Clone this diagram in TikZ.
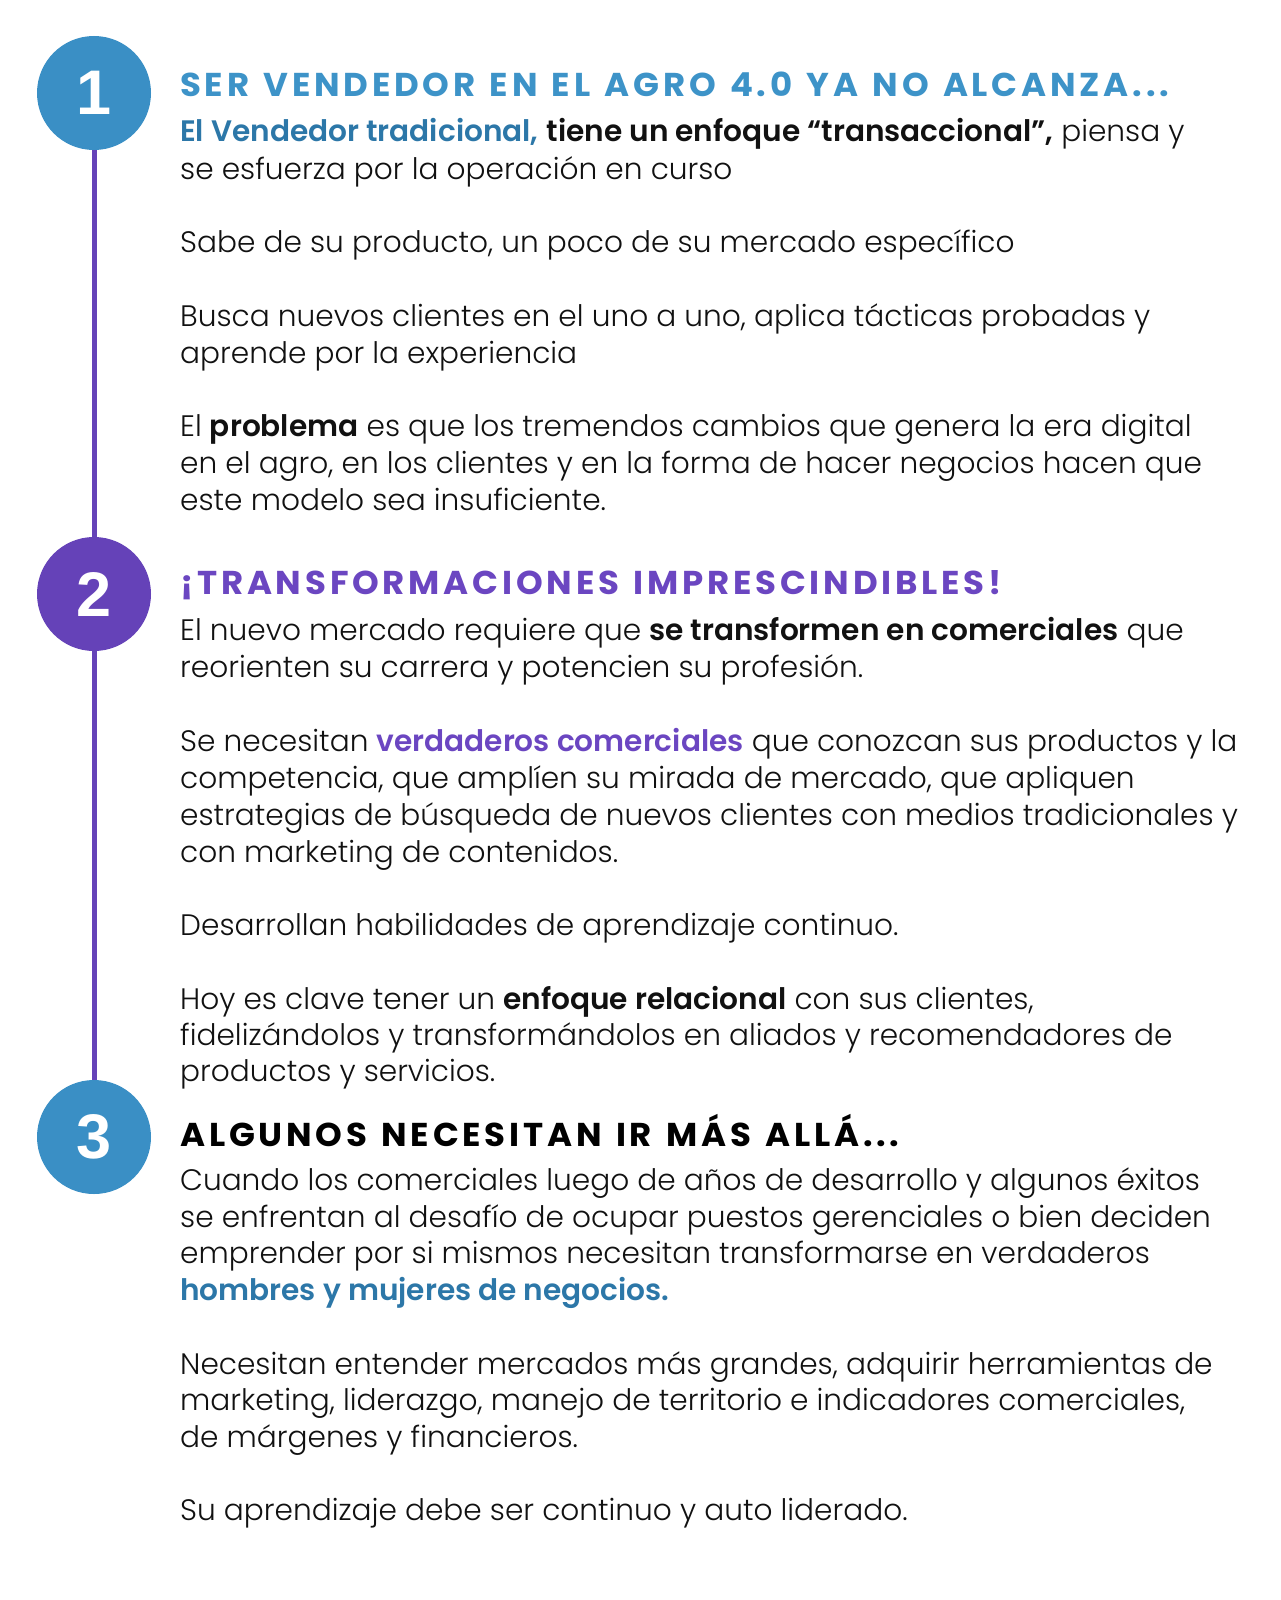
\documentclass[tikz,border=0pt]{standalone}
\usepackage{fontspec}
\setmainfont{Poppins}[UprightFont={Poppins Light}, BoldFont={Poppins SemiBold}]
\newfontfamily\ttlfont{Poppins}[UprightFont={Poppins Bold}, BoldFont={Poppins Bold}, LetterSpace=11.5, WordSpace=1.3, FakeStretch=1.03]
\newfontfamily\numfont{Liberation Sans}
\definecolor{cblue}{HTML}{3A8FC5}
\definecolor{tblue}{HTML}{3D93C8}
\definecolor{dblue}{HTML}{2C77A8}
\definecolor{cpurp}{HTML}{6542B8}
\definecolor{tpurp}{HTML}{6B46C1}
\definecolor{ink}{HTML}{111111}
\newcommand\bodysize{\fontsize{29.6}{37}\selectfont}
\tikzset{
  body/.style={anchor=base west, inner sep=0pt, text=ink, font=\bodysize},
  ttl/.style={anchor=base west, inner sep=0pt, font=\ttlfont\fontsize{33}{40}\selectfont},
  num/.style={circle, minimum size=114pt, inner sep=0pt, text=white, font=\numfont\fontsize{63}{63}\selectfont\bfseries},
  tline/.style={draw=cpurp, line width=5pt}
}
\begin{document}
\begin{tikzpicture}[x=1pt,y=-1pt]
\useasboundingbox (0,0) rectangle (1280,1600);
\fill[white] (0,0) rectangle (1280,1600);
% circles
\node[num, fill=cblue] (c1) at (94,93) {1};
\node[num, fill=cpurp] (c2) at (94,594) {2};
\node[num, fill=cblue] (c3) at (94,1137) {3};
\draw[tline] (c1.south) -- (c2.north);
\draw[tline] (c2.south) -- (c3.north);
% section 1
\node[ttl, text=tblue] (t1) at (180,97) {SER VENDEDOR EN EL AGRO 4.0 YA NO ALCANZA...};
\node[body] (a1) at (180,142) {{\color{dblue}\bfseries El Vendedor tradicional,} {\bfseries tiene un enfoque “transaccional”,} piensa y};
\node[body] (a2) at (180,179) {se esfuerza por la operación en curso};
\node[body] (a3) at (180,252.5) {Sabe de su producto, un poco de su mercado específico};
\node[body] (a4) at (180,326) {Busca nuevos clientes en el uno a uno, aplica tácticas probadas y};
\node[body] (a5) at (180,363) {aprende por la experiencia};
\node[body] (a6) at (180,436.5) {El {\bfseries problema} es que los tremendos cambios que genera la era digital};
\node[body] (a7) at (180,473.5) {en el agro, en los clientes y en la forma de hacer negocios hacen que};
\node[body] (a8) at (180,510) {este modelo sea insuficiente.};
% section 2
\node[ttl, text=tpurp] (t2) at (180,594) {¡TRANSFORMACIONES IMPRESCINDIBLES!};
\node[body] (b1) at (180,640) {El nuevo mercado requiere que {\bfseries se transformen en comerciales} que};
\node[body] (b2) at (180,677) {reorienten su carrera y potencien su profesión.};
\node[body] (b3) at (180,751) {Se necesitan {\color{tpurp}\bfseries verdaderos comerciales} que conozcan sus productos y la};
\node[body] (b4) at (180,788) {competencia, que amplíen su mirada de mercado, que apliquen};
\node[body] (b5) at (180,825) {estrategias de búsqueda de nuevos clientes con medios tradicionales y};
\node[body] (b6) at (180,862) {con marketing de contenidos.};
\node[body] (b7) at (180,935) {Desarrollan habilidades de aprendizaje continuo.};
\node[body] (b8) at (180,1009) {Hoy es clave tener un {\bfseries enfoque relacional} con sus clientes,};
\node[body] (b9) at (180,1045) {fidelizándolos y transformándolos en aliados y recomendadores de};
\node[body] (b10) at (180,1081) {productos y servicios.};
% section 3
\node[ttl, text=black] (t3) at (180,1146) {ALGUNOS NECESITAN IR MÁS ALLÁ...};
\node[body] (d1) at (180,1190) {Cuando los comerciales luego de años de desarrollo y algunos éxitos};
\node[body] (d2) at (180,1227) {se enfrentan al desafío de ocupar puestos gerenciales o bien deciden};
\node[body] (d3) at (180,1263) {emprender por si mismos necesitan transformarse en verdaderos};
\node[body] (d4) at (180,1300) {{\color{dblue}\bfseries hombres y mujeres de negocios.}};
\node[body] (d5) at (180,1374) {Necesitan entender mercados más grandes, adquirir herramientas de};
\node[body] (d6) at (180,1410) {marketing, liderazgo, manejo de territorio e indicadores comerciales,};
\node[body] (d7) at (180,1447) {de márgenes y financieros.};
\node[body] (d8) at (180,1520) {Su aprendizaje debe ser continuo y auto liderado.};
\end{tikzpicture}
\end{document}
